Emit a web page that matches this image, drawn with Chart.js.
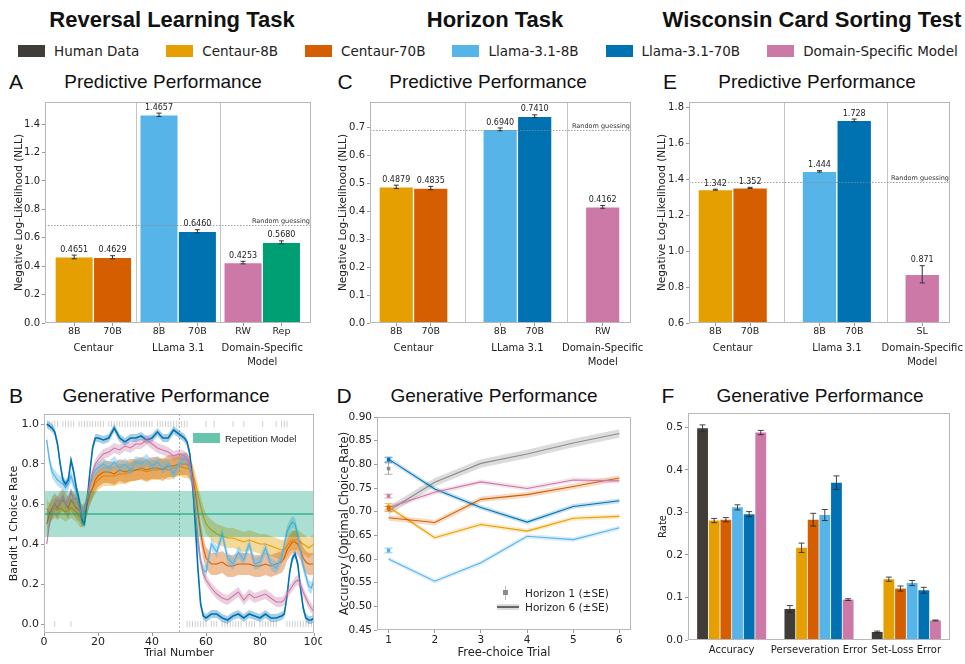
<!DOCTYPE html>
<html>
<head>
<meta charset="utf-8">
<script src="https://cdn.jsdelivr.net/npm/chart.js@4.4.1/dist/chart.umd.min.js"></script>
<style>
  body { margin: 0; background: #fff; width: 965px; height: 664px; position: relative; overflow: hidden;
         font-family: 'Liberation Sans', Arial, sans-serif; color: #111; }
  .t { position: absolute; white-space: nowrap; transform: translate(-50%, -50%); }
  .head { font-weight: bold; font-size: 22px; }
  .sub { font-size: 19px; }
  .letter { font-size: 21px; }
  canvas { position: absolute; }
  #legend { position: absolute; left: 18px; top: 43px; display: flex; gap: 27px;
            font: 13.5px 'DejaVu Sans'; color: #222; }
  #legend span.sw { display: inline-block; width: 27px; height: 12px; margin-right: 9px; vertical-align: -1px; }
  .small { position: absolute; white-space: nowrap; font: 10.5px 'DejaVu Sans'; color: #222; transform: translateY(-50%); }
</style>
</head>
<body>
<div class="t head" style="left:172px;top:20px">Reversal Learning Task</div>
<div class="t head" style="left:495px;top:20px">Horizon Task</div>
<div class="t head" style="left:812px;top:20px">Wisconsin Card Sorting Test</div>
<div id="legend"></div>

<div class="t letter" style="left:16px;top:82px">A</div>
<div class="t sub" style="left:163px;top:82px">Predictive Performance</div>
<div class="t letter" style="left:345px;top:82px">C</div>
<div class="t sub" style="left:488px;top:82px">Predictive Performance</div>
<div class="t letter" style="left:670px;top:82px">E</div>
<div class="t sub" style="left:817px;top:82px">Predictive Performance</div>

<div class="t letter" style="left:16px;top:396px">B</div>
<div class="t sub" style="left:166px;top:396px">Generative Performance</div>
<div class="t letter" style="left:344px;top:396px">D</div>
<div class="t sub" style="left:494px;top:396px">Generative Performance</div>
<div class="t letter" style="left:668px;top:396px">F</div>
<div class="t sub" style="left:820px;top:396px">Generative Performance</div>

<canvas id="cA" width="322" height="277" style="left:0;top:98px"></canvas>
<canvas id="cC" width="322" height="277" style="left:322px;top:98px"></canvas>
<canvas id="cE" width="321" height="277" style="left:644px;top:98px"></canvas>
<canvas id="cB" width="322" height="259" style="left:0;top:405px"></canvas>
<canvas id="cD" width="322" height="259" style="left:322px;top:405px"></canvas>
<canvas id="cF" width="321" height="259" style="left:644px;top:405px"></canvas>

<!-- legend inside B -->
<div style="position:absolute;left:193px;top:433px;width:27px;height:10px;background:rgba(0,158,115,0.6)"></div>
<div class="small" style="left:225px;top:438px;font:9.5px 'Liberation Sans',Arial">Repetition Model</div>
<!-- legend inside D -->
<div style="position:absolute;left:505px;top:586px;width:1px;height:14px;background:#bbb"></div>
<div style="position:absolute;left:503px;top:590px;width:5px;height:5px;background:#8c8c8c"></div>
<div class="small" style="left:525px;top:593px">Horizon 1 (±SE)</div>
<div style="position:absolute;left:497px;top:604px;width:22px;height:6px;background:rgba(140,140,140,0.3)"></div>
<div style="position:absolute;left:497px;top:606px;width:22px;height:1.5px;background:#666"></div>
<div class="small" style="left:525px;top:607px">Horizon 6 (±SE)</div>

<script>
// ---------- shared ----------
const models = ['Human Data', 'Centaur-8B', 'Centaur-70B', 'Llama-3.1-8B', 'Llama-3.1-70B', 'Domain-Specific Model'];
const modelColors = ['#403c37', '#e69f00', '#d55e00', '#56b4e9', '#0072b2', '#cc79a7'];
const repColor = '#009e73';

// ---------- A: reversal learning NLL ----------
const labelsA = ['8B', '70B', '8B', '70B', 'RW', 'Rep'];
const groupsA = ['Centaur', 'LLama 3.1', ['Domain-Specific', 'Model']];
const nllA = [0.4651, 0.4629, 1.4657, 0.6460, 0.4253, 0.5680];
const errA = [0.013, 0.011, 0.012, 0.011, 0.009, 0.010];
const ticksA = [0, 0.2, 0.4, 0.6, 0.8, 1.0, 1.2, 1.4];
const randomA = 0.693;

// ---------- C: horizon NLL ----------
const labelsC = ['8B', '70B', '8B', '70B', 'RW'];
const groupsC = ['Centaur', 'LLama 3.1', ['Domain-Specific', 'Model']];
const nllC = [0.4879, 0.4835, 0.6940, 0.7410, 0.4162];
const errC = [0.006, 0.006, 0.005, 0.005, 0.005];
const ticksC = [0, 0.1, 0.2, 0.3, 0.4, 0.5, 0.6, 0.7];
const randomC = 0.693;

// ---------- E: WCST NLL ----------
const labelsE = ['8B', '70B', '8B', '70B', 'SL'];
const groupsE = ['Centaur', 'Llama 3.1', ['Domain-Specific', 'Model']];
const nllE = [1.342, 1.352, 1.444, 1.728, 0.871];
const errE = [0.003, 0.003, 0.004, 0.007, 0.048];
const ticksE = [0.6, 0.8, 1.0, 1.2, 1.4, 1.6, 1.8];
const randomE = 1.386;

// ---------- B: reversal learning choice curves ----------
const trialsB = [1,2,3,4,5,6,7,8,9,10,11,12,13,14,15,16,17,18,19,20,
  22,24,26,28,30,32,34,36,38,40,42,44,46,48,50,52,53,54,55,56,57,58,59,60,
  62,64,66,68,70,72,74,76,78,80,82,84,86,88,89,90,91,92,93,94,95,96,97,98,99,100];
const choiceC8B = [0.58,0.55,0.57,0.58,0.57,0.58,0.57,0.56,0.57,0.58,0.57,0.56,0.54,0.53,0.55,0.60,0.65,0.68,0.70,0.72,
  0.74,0.74,0.74,0.75,0.75,0.76,0.77,0.77,0.76,0.77,0.77,0.78,0.77,0.78,0.79,0.78,
  0.78,0.77,0.75,0.71,0.65,0.59,0.54,0.50,
  0.47,0.45,0.44,0.43,0.43,0.42,0.41,0.42,0.41,0.40,0.40,0.39,0.38,0.37,
  0.37,0.39,0.41,0.42,0.42,0.42,0.41,0.40,0.39,0.38,0.39,0.40];
const choiceC70B = [0.50,0.55,0.58,0.60,0.58,0.61,0.62,0.60,0.58,0.62,0.60,0.58,0.57,0.54,0.55,0.60,0.65,0.68,0.72,0.74,
  0.76,0.76,0.75,0.77,0.76,0.77,0.77,0.78,0.77,0.78,0.78,0.77,0.79,0.79,0.80,0.80,
  0.80,0.78,0.74,0.66,0.56,0.46,0.38,0.33,
  0.30,0.30,0.31,0.29,0.29,0.30,0.30,0.30,0.29,0.29,0.30,0.29,0.30,0.31,
  0.33,0.37,0.39,0.41,0.41,0.40,0.37,0.33,0.31,0.30,0.30,0.30];
const choiceL8B = [0.92,0.82,0.76,0.74,0.72,0.71,0.70,0.68,0.70,0.74,0.70,0.66,0.62,0.56,0.55,0.62,0.69,0.74,0.77,0.78,
  0.80,0.78,0.81,0.78,0.80,0.77,0.81,0.80,0.82,0.79,0.81,0.78,0.80,0.75,0.80,0.83,
  0.82,0.78,0.68,0.52,0.40,0.31,0.27,0.26,
  0.40,0.36,0.45,0.33,0.30,0.36,0.32,0.40,0.30,0.31,0.38,0.30,0.28,0.33,
  0.40,0.46,0.49,0.51,0.50,0.44,0.36,0.29,0.24,0.19,0.18,0.22];
const choiceL70B = [1.00,0.99,0.98,0.96,0.90,0.80,0.72,0.70,0.72,0.82,0.76,0.68,0.62,0.52,0.50,0.62,0.76,0.88,0.93,0.93,
  0.92,0.93,0.98,0.93,0.91,0.93,0.93,0.94,0.92,0.93,0.96,0.93,0.93,0.97,0.95,0.93,
  0.91,0.85,0.72,0.50,0.28,0.10,0.04,0.03,
  0.05,0.05,0.03,0.02,0.04,0.05,0.03,0.05,0.04,0.03,0.05,0.03,0.03,0.04,
  0.05,0.14,0.26,0.33,0.35,0.30,0.18,0.08,0.03,0.02,0.02,0.03];
const choiceDS = [0.40,0.50,0.56,0.60,0.62,0.60,0.64,0.60,0.62,0.66,0.62,0.63,0.58,0.55,0.57,0.63,0.70,0.76,0.80,0.82,
  0.85,0.86,0.88,0.87,0.89,0.88,0.90,0.90,0.92,0.90,0.88,0.87,0.86,0.84,0.85,0.84,
  0.83,0.80,0.72,0.58,0.44,0.32,0.25,0.22,
  0.18,0.15,0.13,0.12,0.14,0.16,0.12,0.15,0.13,0.14,0.15,0.13,0.11,0.11,
  0.12,0.15,0.17,0.19,0.21,0.22,0.20,0.16,0.13,0.10,0.08,0.06];
const seB = [0.05, 0.055, 0.03, 0.02, 0.025];   // C8B, C70B, L8B, L70B, DS
const repMean = 0.55, repSE = 0.115;
const rugTop = [2,3,4,5,7,8,9,10,11,13,14,15,16,17,18,19,20,21,22,24,25,26,27,28,29,30,31,32,33,34,35,36,37,38,39,40,
  42,43,44,45,46,47,48,49,50,51,52,53,60,63,70,74,81,86,88,89,90];
const rugBottom = [4,10,53,54,55,56,57,58,59,60,62,63,64,66,67,68,69,70,71,72,73,75,76,77,78,80,81,82,83,84,85,86,
  90,91,92,93,94,95,96,97,98,99,100];
const ticksBx = [0, 20, 40, 60, 80, 100];
const ticksBy = [0, 0.2, 0.4, 0.6, 0.8, 1.0];

// ---------- D: horizon task accuracy ----------
const trialsD = [1, 2, 3, 4, 5, 6];
const h6Human = [0.702, 0.762, 0.802, 0.822, 0.845, 0.865];
const h6C8B   = [0.710, 0.645, 0.673, 0.659, 0.686, 0.690];
const h6C70B  = [0.687, 0.677, 0.726, 0.736, 0.753, 0.771];
const h6L8B   = [0.600, 0.553, 0.592, 0.648, 0.641, 0.666];
const h6L70B  = [0.811, 0.748, 0.709, 0.678, 0.711, 0.723];
const h6DS    = [0.709, 0.741, 0.763, 0.749, 0.767, 0.765];
const seD = [0.009, 0.005, 0.006, 0.005, 0.005, 0.005];
const h1Acc = [0.791, 0.711, 0.706, 0.618, 0.810, 0.733];
const h1Err = [0.012, 0.006, 0.005, 0.005, 0.005, 0.004];
const ticksDy = [0.45, 0.50, 0.55, 0.60, 0.65, 0.70, 0.75, 0.80, 0.85, 0.90];

// ---------- F: WCST rates ----------
const catsF = ['Accuracy', 'Perseveration Error', 'Set-Loss Error'];
const rateHuman = [0.498, 0.073, 0.019];
const rateC8B   = [0.281, 0.217, 0.143];
const rateC70B  = [0.283, 0.283, 0.121];
const rateL8B   = [0.312, 0.294, 0.134];
const rateL70B  = [0.296, 0.370, 0.117];
const rateDS    = [0.488, 0.095, 0.046];
const errHuman = [0.008, 0.008, 0.002];
const errC8B   = [0.005, 0.011, 0.005];
const errC70B  = [0.005, 0.015, 0.006];
const errL8B   = [0.006, 0.013, 0.006];
const errL70B  = [0.006, 0.016, 0.007];
const errDS    = [0.005, 0.002, 0.001];
const ticksF = [0, 0.1, 0.2, 0.3, 0.4, 0.5];

// ---------- helpers ----------
Chart.defaults.font.family = "'DejaVu Sans'";
Chart.defaults.color = '#222';

function alpha(hex, a) {
  const n = parseInt(hex.slice(1), 16);
  return `rgba(${n >> 16},${(n >> 8) & 255},${n & 255},${a})`;
}

// legend row
const legendEl = document.getElementById('legend');
models.forEach((m, i) => {
  const d = document.createElement('div');
  d.innerHTML = `<span class="sw" style="background:${modelColors[i]}"></span>${m}`;
  legendEl.appendChild(d);
});

// separators, reference lines, group labels, frame
const decor = {
  id: 'decor',
  beforeDatasetsDraw(chart, args, o) {
    const { ctx, chartArea: a, scales } = chart;
    ctx.save();
    ctx.lineWidth = 1;
    (o.seps || []).forEach(v => {
      const x = Math.round(scales.x.getPixelForValue(v)) + 0.5;
      ctx.strokeStyle = '#c4c4c4';
      ctx.beginPath(); ctx.moveTo(x, a.top); ctx.lineTo(x, a.bottom); ctx.stroke();
    });
    (o.vlines || []).forEach(v => {
      const x = Math.round(scales.x.getPixelForValue(v)) + 0.5;
      ctx.strokeStyle = '#b0b0b0'; ctx.setLineDash([2, 2]);
      ctx.beginPath(); ctx.moveTo(x, a.top); ctx.lineTo(x, a.bottom); ctx.stroke();
    });
    ctx.restore();
  },
  afterDatasetsDraw(chart, args, o) {
    const { ctx, chartArea: a, scales } = chart;
    ctx.save();
    if (o.ref) {
      const y = Math.round(scales.y.getPixelForValue(o.ref.value)) + 0.5;
      ctx.strokeStyle = '#8a8a8a'; ctx.lineWidth = 0.8; ctx.setLineDash([1.5, 1.5]);
      ctx.beginPath(); ctx.moveTo(a.left, y); ctx.lineTo(a.right, y); ctx.stroke();
      ctx.setLineDash([]);
      ctx.fillStyle = '#333'; ctx.font = "6.5px 'DejaVu Sans'";
      ctx.textAlign = 'right'; ctx.textBaseline = 'bottom';
      ctx.fillText(o.ref.label, a.right - 1, y - 1);
    }
    if (o.groups) {
      ctx.fillStyle = '#222'; ctx.font = "10px 'DejaVu Sans'";
      ctx.textAlign = 'center'; ctx.textBaseline = 'middle';
      o.groups.pos.forEach((v, i) => {
        const x = scales.x.getPixelForValue(v);
        [].concat(o.groups.labels[i]).forEach((line, j) => ctx.fillText(line, x, a.bottom + 25 + j * 14));
      });
    }
    ctx.strokeStyle = '#b8b8b8'; ctx.lineWidth = 1;
    ctx.strokeRect(Math.round(a.left) + 0.5, Math.round(a.top) + 0.5,
      Math.round(a.right - a.left) - 1, Math.round(a.bottom - a.top) - 1);
    ctx.restore();
  }
};

// error bars and optional value labels
const errorBars = {
  id: 'errorBars',
  afterDatasetsDraw(chart, args, o) {
    const ctx = chart.ctx;
    chart.data.datasets.forEach((ds, di) => {
      if (!ds.errors) return;
      const meta = chart.getDatasetMeta(di);
      const ys = chart.scales[meta.yAxisID];
      meta.data.forEach((el, i) => {
        const raw = ds.data[i];
        const v = typeof raw === 'object' ? raw.y : raw;
        const e = ds.errors[i];
        const top = ys.getPixelForValue(v + e), bot = ys.getPixelForValue(v - e);
        const cap = o.cap || 3;
        ctx.save();
        ctx.strokeStyle = Array.isArray(ds.errorColor) ? ds.errorColor[i] : (ds.errorColor || '#333');
        ctx.lineWidth = 1;
        ctx.beginPath();
        ctx.moveTo(el.x, top); ctx.lineTo(el.x, bot);
        ctx.moveTo(el.x - cap, top); ctx.lineTo(el.x + cap, top);
        ctx.moveTo(el.x - cap, bot); ctx.lineTo(el.x + cap, bot);
        ctx.stroke();
        if (o.decimals) {
          ctx.fillStyle = '#222'; ctx.font = "8px 'DejaVu Sans'";
          ctx.textAlign = 'center'; ctx.textBaseline = 'bottom';
          ctx.fillText(v.toFixed(o.decimals), el.x, top - 1.5);
        }
        ctx.restore();
      });
    });
  }
};
Chart.register(decor, errorBars);

const tickGrid = { drawOnChartArea: false, drawTicks: true, tickLength: 3, color: '#999', offset: false };

function yAxis(min, max, ticks, fmt, title, titleSize, titlePad, width, tickSize) {
  return {
    min, max,
    afterBuildTicks: s => { s.ticks = ticks.map(v => ({ value: v })); },
    ticks: { font: { size: tickSize }, padding: 2, color: '#222', callback: v => fmt(v) },
    grid: tickGrid, border: { display: false },
    title: { display: true, text: title, font: { size: titleSize }, color: '#222', padding: { top: titlePad } },
    afterFit: s => { s.width = width; s.paddingTop = 0; s.paddingBottom = 0; }
  };
}

function nllChart(id, o) {
  return new Chart(document.getElementById(id), {
    type: 'bar',
    data: {
      datasets: [{
        data: o.vals.map((v, i) => ({ x: o.pos[i], y: v })),
        errors: o.errs,
        backgroundColor: o.colors,
        borderColor: 'rgba(255,255,255,0.55)', borderWidth: 1,
        categoryPercentage: 1, barPercentage: 1
      }]
    },
    options: {
      responsive: false, animation: false,
      layout: { padding: { top: 4, right: o.padRight, left: 0, bottom: 0 } },
      plugins: {
        legend: { display: false }, tooltip: { enabled: false },
        decor: { seps: o.seps, ref: { value: o.random, label: 'Random guessing' },
                 groups: { pos: o.groupPos, labels: o.groupLabels } },
        errorBars: { decimals: o.decimals, cap: 2.5 }
      },
      scales: {
        x: {
          type: 'linear', min: 0, max: o.xMax, offset: false,
          grid: tickGrid, border: { display: false },
          afterBuildTicks: s => { s.ticks = o.pos.map(v => ({ value: v })); },
          ticks: { autoSkip: false, maxRotation: 0, padding: 0, font: { size: 9.5 }, color: '#222',
                   callback: (v, i) => o.tickLabels[i] },
          afterFit: s => { s.height = 52; s.paddingLeft = 0; s.paddingRight = 0; }
        },
        y: yAxis(o.yMin, o.yMax, o.yTicks, v => v.toFixed(1), 'Negative Log-Likelihood (NLL)', 10.5, o.titlePad, o.yWidth, 10)
      }
    }
  });
}

const c = modelColors;
nllChart('cA', {
  vals: nllA, errs: errA, tickLabels: labelsA, groupLabels: groupsA,
  colors: [c[1], c[2], c[3], c[4], c[5], repColor],
  pos: [0.76, 1.76, 2.97, 3.97, 5.16, 6.16], groupPos: [1.26, 3.47, 5.66], seps: [2.37, 4.55], xMax: 6.93,
  yMin: 0, yMax: 1.556, yTicks: ticksA, random: randomA, decimals: 4,
  yWidth: 45, padRight: 11, titlePad: 13
});
nllChart('cC', {
  vals: nllC, errs: errC, tickLabels: labelsC, groupLabels: groupsC,
  colors: [c[1], c[2], c[3], c[4], c[5]],
  pos: [0.76, 1.76, 3.77, 4.77, 6.74], groupPos: [1.26, 4.27, 6.74], seps: [2.76, 5.72], xMax: 7.56,
  yMin: 0, yMax: 0.792, yTicks: ticksC, random: randomC, decimals: 4,
  yWidth: 48, padRight: 13, titlePad: 15
});
nllChart('cE', {
  vals: nllE, errs: errE, tickLabels: labelsE, groupLabels: groupsE,
  colors: [c[1], c[2], c[3], c[4], c[5]],
  pos: [0.76, 1.76, 3.76, 4.76, 6.72], groupPos: [1.26, 4.26, 6.72], seps: [2.74, 5.71], xMax: 7.52,
  yMin: 0.6, yMax: 1.83, yTicks: ticksE, random: randomE, decimals: 3,
  yWidth: 45, padRight: 15, titlePad: 12
});

// ---------- B ----------
function bandSets(xs, mean, se, color, width, bandA) {
  return [
    { data: xs.map((x, i) => ({ x, y: mean[i] })), borderColor: color, borderWidth: width, pointRadius: 0, fill: false },
    { data: xs.map((x, i) => ({ x, y: mean[i] + se })), borderWidth: 0, pointRadius: 0, fill: '+1',
      backgroundColor: alpha(color, bandA) },
    { data: xs.map((x, i) => ({ x, y: mean[i] - se })), borderWidth: 0, pointRadius: 0, fill: false }
  ];
}
const repX = [0, 100];
const dsB = [
  ...bandSets(repX, [repMean, repMean], repSE, repColor, 1.2, 0.33),
  ...bandSets(trialsB, choiceDS, seB[4], c[5], 1.1, 0.35),
  ...bandSets(trialsB, choiceL70B, seB[3], c[4], 1.6, 0.35),
  ...bandSets(trialsB, choiceL8B, seB[2], c[3], 1.2, 0.4),
  ...bandSets(trialsB, choiceC70B, seB[1], c[2], 1.1, 0.4),
  ...bandSets(trialsB, choiceC8B, seB[0], c[1], 1.1, 0.4),
  { data: rugTop.map(x => ({ x, y: 1.0 })), showLine: false, pointStyle: 'line', rotation: 90,
    pointRadius: 3, borderColor: '#cfcfcf', borderWidth: 1 },
  { data: rugBottom.map(x => ({ x, y: 0.0 })), showLine: false, pointStyle: 'line', rotation: 90,
    pointRadius: 3, borderColor: '#cfcfcf', borderWidth: 1 }
];
new Chart(document.getElementById('cB'), {
  type: 'line',
  data: { datasets: dsB },
  options: {
    responsive: false, animation: false,
    layout: { padding: { top: 9, right: 8, left: 0, bottom: 0 } },
    elements: { line: { tension: 0 } },
    plugins: { legend: { display: false }, tooltip: { enabled: false }, decor: { vlines: [50] } },
    scales: {
      x: {
        type: 'linear', min: 0, max: 100,
        afterBuildTicks: s => { s.ticks = ticksBx.map(v => ({ value: v })); },
        ticks: { font: { size: 11 }, padding: 0, color: '#222' },
        grid: tickGrid, border: { display: false },
        title: { display: true, text: 'Trial Number', font: { size: 11 }, color: '#222', padding: { top: 0, bottom: 4 } },
        afterFit: s => { s.height = 31; s.paddingLeft = 0; s.paddingRight = 0; }
      },
      y: yAxis(-0.045, 1.05, ticksBy, v => v.toFixed(1), 'Bandit 1 Choice Rate', 11, 8, 44, 11)
    }
  }
});

// ---------- D ----------
const greyD = '#8c8c8c';
const h6Series = [h6Human, h6C8B, h6C70B, h6L8B, h6L70B, h6DS];
const h6Colors = [greyD, c[1], c[2], c[3], c[4], c[5]];
const dsD = [{
  data: h1Acc.map(y => ({ x: 1, y })), showLine: false, pointStyle: 'rect', pointRadius: 2.5,
  backgroundColor: h6Colors, borderWidth: 0, errors: h1Err, errorColor: h6Colors.map(col => alpha(col, 0.7))
}];
[5, 4, 3, 2, 1, 0].forEach(k => dsD.push(...bandSets(trialsD, h6Series[k], seD[k], h6Colors[k], 1.1, k === 0 ? 0.3 : 0.22)));
new Chart(document.getElementById('cD'), {
  type: 'line',
  data: { datasets: dsD },
  options: {
    responsive: false, animation: false,
    layout: { padding: { top: 12, right: 13, left: 0, bottom: 0 } },
    elements: { line: { tension: 0 } },
    plugins: { legend: { display: false }, tooltip: { enabled: false }, decor: {}, errorBars: { cap: 4 } },
    scales: {
      x: {
        type: 'linear', min: 0.75, max: 6.25,
        afterBuildTicks: s => { s.ticks = trialsD.map(v => ({ value: v })); },
        ticks: { font: { size: 10.5 }, padding: 1, color: '#222' },
        grid: tickGrid, border: { display: false },
        title: { display: true, text: 'Free-choice Trial', font: { size: 11.5 }, color: '#222', padding: { top: 0, bottom: 4 } },
        afterFit: s => { s.height = 34; s.paddingLeft = 0; s.paddingRight = 0; }
      },
      y: yAxis(0.45, 0.90, ticksDy, v => v.toFixed(2), 'Accuracy (Optimal Choice Rate)', 11.5, 16, 55, 10.5)
    }
  }
});

// ---------- F ----------
const rateSeries = [rateHuman, rateC8B, rateC70B, rateL8B, rateL70B, rateDS];
const errSeries = [errHuman, errC8B, errC70B, errL8B, errL70B, errDS];
new Chart(document.getElementById('cF'), {
  type: 'bar',
  data: {
    labels: catsF,
    datasets: rateSeries.map((r, i) => ({
      label: models[i], data: r, errors: errSeries[i], errorColor: 'rgba(40,40,40,0.85)',
      backgroundColor: modelColors[i], borderWidth: 0,
      categoryPercentage: 0.8, barPercentage: 0.93
    }))
  },
  options: {
    responsive: false, animation: false,
    layout: { padding: { top: 8, right: 15, left: 0, bottom: 0 } },
    plugins: { legend: { display: false }, tooltip: { enabled: false }, decor: {}, errorBars: { cap: 3 } },
    scales: {
      x: {
        ticks: { font: { size: 10 }, padding: 4, color: '#222', autoSkip: false, maxRotation: 0 },
        grid: { display: false, drawTicks: false }, border: { display: false },
        afterFit: s => { s.height = 24; s.paddingLeft = 0; s.paddingRight = 0; }
      },
      y: yAxis(0, 0.534, ticksF, v => v.toFixed(1), 'Rate', 10, 13, 44, 10.5)
    }
  }
});
</script>
</body>
</html>
